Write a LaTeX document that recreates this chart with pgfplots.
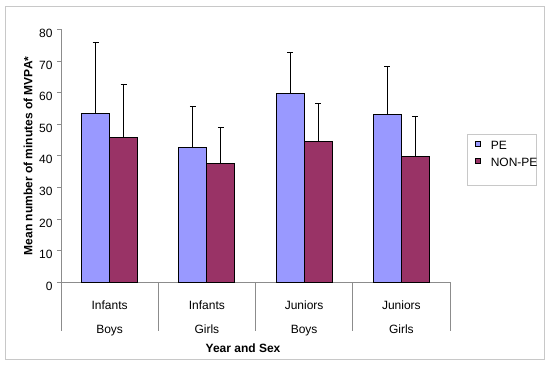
\documentclass[border=0pt]{standalone}
\usepackage{fontspec}
\setmainfont{Liberation Sans}
\usepackage{pgfplots}
\pgfplotsset{compat=1.18}
\definecolor{peblue}{RGB}{153,153,255}
\definecolor{nonpe}{RGB}{153,51,102}
\definecolor{axgray}{RGB}{140,140,140}
\definecolor{framegray}{RGB}{200,200,200}
\pgfplotsset{/pgfplots/ybar legend/.style={/pgfplots/legend image code/.code={\draw[##1, draw=black, line width=0.6pt] (0pt,-0.5pt) rectangle (5pt,4.5pt);}}}
\begin{document}
\begin{tikzpicture}[x=1pt,y=1pt]
\useasboundingbox (0,0) rectangle (550,367);
\draw[framegray, line width=0.8pt] (5.5,7.5) rectangle (544.5,361);
\draw[framegray, line width=0.8pt] (467,182) rectangle (536,233);
\begin{axis}[
  at={(61pt,84.7pt)}, anchor=south west,
  scale only axis, width=389pt, height=253pt,
  font=\fontsize{12}{14}\selectfont,
  ymin=0, ymax=80, ytick={0,10,...,80},
  xmin=-0.5, xmax=3.5,
  axis x line*=bottom, axis y line*=left,
  axis line style={axgray, line width=0.8pt},
  major tick length=3.5pt, tick align=outside,
  ytick style={axgray, line width=0.8pt},
  yticklabel style={xshift=-1.5pt, yshift=-4pt},
  /pgf/number format/assume math mode=true,
  xtick={0,1,2,3},
  x tick style={draw=none},
  xticklabels={{Infants\\Boys},{Infants\\Girls},{Juniors\\Boys},{Juniors\\Girls}},
  xticklabel style={align=center, font=\fontsize{12}{24}\selectfont, anchor=north, inner sep=0pt, yshift=-15pt},
  ylabel={\bfseries Mean number of minutes of MVPA*},
  ylabel style={at={(axis description cs:-0.0848,0.5)}, anchor=center},
  xlabel={\bfseries Year and Sex},
  xlabel style={at={(axis description cs:0.468,-0.26)}, anchor=center},
  ybar=0pt, bar width=28pt,
  clip=false,
  legend style={at={(axis description cs:1.0643,0.566)}, anchor=north west,
    draw=none, fill=none, font=\fontsize{12}{14}\selectfont,
    inner sep=0pt, row sep=2.7pt,
    cells={inner xsep=0pt, inner ysep=2pt},
    /tikz/every odd column/.append style={column sep=8pt}},
  legend cell align=left,
]
\addplot[fill=peblue, draw=black, line width=0.8pt,
  error bars/.cd, y dir=plus, y explicit, error mark=|,
  error bar style={black, line width=0.8pt}, error mark options={black, mark size=3pt, line width=1pt}]
  coordinates {(0,53.4) +- (0,22.5) (1,42.7) +- (0,13.0) (2,59.8) +- (0,12.8) (3,53.2) +- (0,14.9)};
\addplot[fill=nonpe, draw=black, line width=0.8pt,
  error bars/.cd, y dir=plus, y explicit, error mark=|,
  error bar style={black, line width=0.8pt}, error mark options={black, mark size=3pt, line width=1pt}]
  coordinates {(0,45.7) +- (0,16.7) (1,37.7) +- (0,11.1) (2,44.5) +- (0,12.0) (3,39.7) +- (0,12.7)};
\legend{PE,NON-PE}
\draw[axgray, line width=0.8pt] (axis cs:-0.5,0) -- ++(0pt,-48.4pt);
\draw[axgray, line width=0.8pt] (axis cs:0.5,0) -- ++(0pt,-48.4pt);
\draw[axgray, line width=0.8pt] (axis cs:1.5,0) -- ++(0pt,-48.4pt);
\draw[axgray, line width=0.8pt] (axis cs:2.5,0) -- ++(0pt,-48.4pt);
\draw[axgray, line width=0.8pt] (axis cs:3.5,0) -- ++(0pt,-48.4pt);
\end{axis}
\end{tikzpicture}
\end{document}
